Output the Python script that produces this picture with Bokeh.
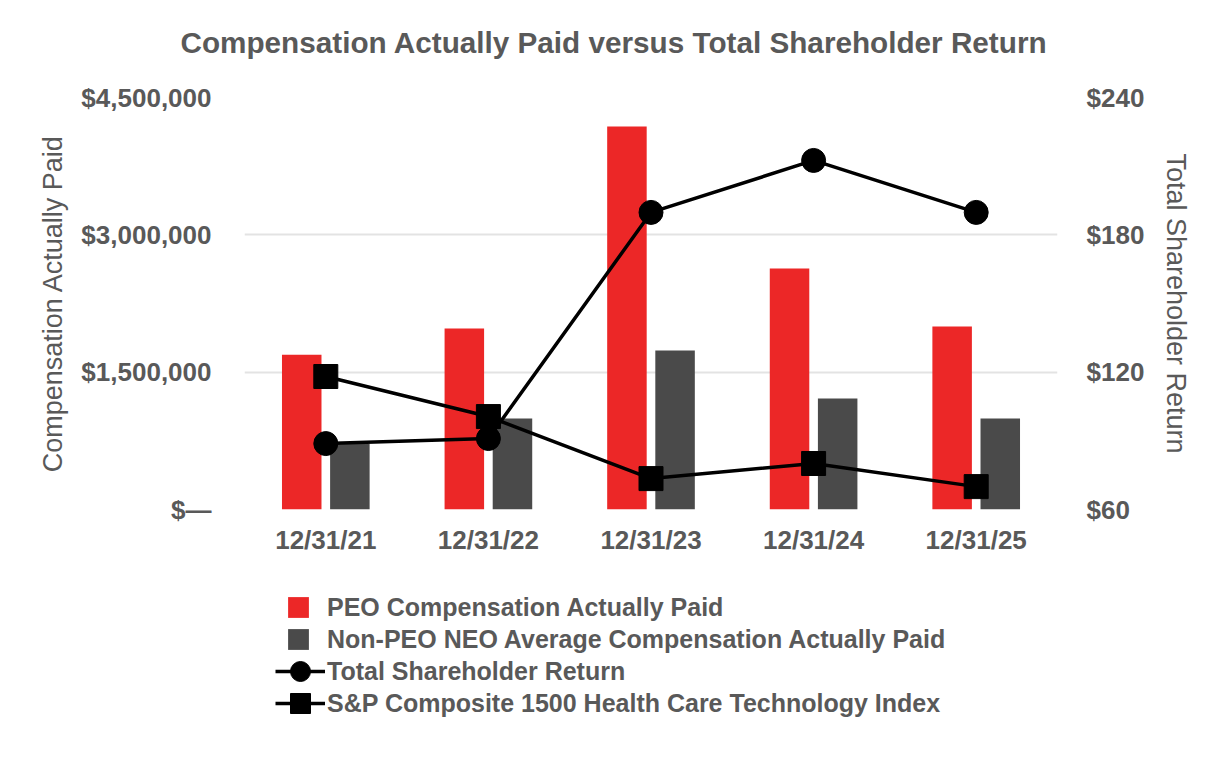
from bokeh.plotting import figure
from bokeh.layouts import column
from bokeh.models import (FactorRange, Range1d, LinearAxis, FixedTicker, Legend,
                          LegendItem, ColumnDataSource, Title)
from bokeh.transform import dodge
from bokeh.embed import file_html
from bokeh.resources import INLINE

# ---- data ----
years = ["12/31/21", "12/31/22", "12/31/23", "12/31/24", "12/31/25"]
peo_cap = [1690000, 1977000, 4183000, 2632000, 1999000]
neo_cap = [721000, 994000, 1737000, 1212000, 994000]
tsr = [88.8, 91.0, 189.8, 212.5, 189.8]
sp_index = [118.1, 100.6, 73.5, 80.1, 70.0]

left_ticks = [0, 1500000, 3000000, 4500000]
left_tick_labels = ["$\u2014", "$1,500,000", "$3,000,000", "$4,500,000"]
right_ticks = [60, 120, 180, 240]
right_tick_labels = ["$60", "$120", "$180", "$240"]

series_names = ["PEO Compensation Actually Paid",
                "Non-PEO NEO Average Compensation Actually Paid",
                "Total Shareholder Return",
                "S&P Composite 1500 Health Care Technology Index"]
title_text = "Compensation Actually Paid versus Total Shareholder Return"

FONT = "Liberation Sans"
TXT = "#595959"
RED = "#EC2727"
GREY = "#4A4A4A"

src = ColumnDataSource(dict(years=years, peo=peo_cap, neo=neo_cap, tsr=tsr, sp=sp_index))

def blank(fig):
    fig.outline_line_color = None
    fig.background_fill_color = "white"
    fig.border_fill_color = "white"

# ---- title strip ----
tf = figure(width=1226, height=80, x_range=Range1d(0, 1), y_range=Range1d(0, 1),
            x_axis_type=None, y_axis_type=None, output_backend="svg",
            toolbar_location=None, title=None, min_border=0, min_border_top=63)
blank(tf)
tf.xgrid.visible = False
tf.ygrid.visible = False
tf.add_layout(Title(text=title_text, align="left", offset=-64, standoff=10,
                    text_font=FONT, text_font_size="29.7px", text_font_style="bold",
                    text_color=TXT), "above")

# ---- main chart ----
p = figure(width=1226, height=500, x_range=FactorRange(*years),
           y_range=Range1d(0, 4500000), output_backend="svg", toolbar_location=None,
           title=None, min_border_left=244, min_border_right=169, min_border_top=17,
           min_border_bottom=71)
blank(p)
p.extra_y_ranges = {"tsr": Range1d(60, 240)}

def draw_series(fig, yname):
    kw = {} if yname is None else {"y_range_name": yname}
    a = fig.vbar(x=dodge("years", -0.148, range=fig.x_range), top="peo", width=0.243,
                 source=src, fill_color=RED, line_color=None)
    b = fig.vbar(x=dodge("years", 0.148, range=fig.x_range), top="neo", width=0.243,
                 source=src, fill_color=GREY, line_color=None)
    sl = fig.line("years", "sp", source=src, line_color="black", line_width=3.5, **kw)
    sp_ = fig.scatter("years", "sp", source=src, marker="square", size=24,
                      fill_color="black", line_color="black", **kw)
    tl = fig.line("years", "tsr", source=src, line_color="black", line_width=3.5, **kw)
    tp = fig.scatter("years", "tsr", source=src, marker="circle", size=24,
                     fill_color="black", line_color="black", **kw)
    return a, b, tl, tp, sl, sp_

draw_series(p, "tsr")

def style_axis(ax):
    ax.axis_line_color = None
    ax.major_tick_line_color = None
    ax.minor_tick_line_color = None
    ax.major_label_text_font = FONT
    ax.major_label_text_font_style = "bold"
    ax.major_label_text_font_size = "26px"
    ax.major_label_text_color = TXT
    ax.axis_label_text_font = FONT
    ax.axis_label_text_font_style = "normal"
    ax.axis_label_text_font_size = "27px"
    ax.axis_label_text_color = TXT

yl = p.yaxis[0]
yl.ticker = FixedTicker(ticks=left_ticks)
yl.major_label_overrides = dict(zip(left_ticks, left_tick_labels))
yl.axis_label = "Compensation Actually Paid"
style_axis(yl)
yl.major_label_standoff = 27
yl.axis_label_standoff = 10

yr = LinearAxis(y_range_name="tsr", ticker=FixedTicker(ticks=right_ticks),
                axis_label="Total Shareholder Return")
yr.major_label_overrides = dict(zip(right_ticks, right_tick_labels))
style_axis(yr)
yr.major_label_standoff = 23
yr.axis_label_standoff = 14
p.add_layout(yr, "right")

xa = p.xaxis[0]
style_axis(xa)
xa.major_label_standoff = 9

p.xgrid.grid_line_color = None
p.ygrid.ticker = FixedTicker(ticks=left_ticks)
p.ygrid.grid_line_color = "#E3E3E3"
p.ygrid.grid_line_width = 2

# ---- legend strip below the chart (hidden copies of the series give the swatches) ----
lg = figure(width=1226, height=180, x_range=p.x_range, y_range=Range1d(-2, -1),
            x_axis_type=None, y_axis_type=None, output_backend="svg",
            toolbar_location=None, title=None, min_border=0)
blank(lg)
lg.xgrid.visible = False
lg.ygrid.visible = False
hidden = draw_series(lg, None)
for r in hidden:
    r.visible = False
l_peo, l_neo, l_tsr_line, l_tsr_pts, l_sp_line, l_sp_pts = hidden

common = dict(orientation="vertical", label_text_font=FONT, label_text_font_size="25px",
              label_text_font_style="bold", label_text_color=TXT, label_height=30,
              padding=0, margin=0, border_line_color=None, background_fill_alpha=0,
              spacing=0)

entries = [
    (series_names[0], [l_peo], (41, 138), 26, 26, 16),
    (series_names[1], [l_neo], (41, 106), 26, 26, 16),
    (series_names[2], [l_tsr_line, l_tsr_pts], (31, 59), 50, 60, 2),
    (series_names[3], [l_sp_line, l_sp_pts], (31, 27), 50, 60, 2),
]
for name, rends, loc, gw, gh, so in entries:
    lg.add_layout(Legend(items=[LegendItem(label=name, renderers=rends)], location=loc,
                         glyph_width=gw, glyph_height=gh, label_standoff=so, **common),
                  "center")

layout = column(tf, p, lg, spacing=0)
open("out.html", "w").write(file_html(layout, INLINE))
